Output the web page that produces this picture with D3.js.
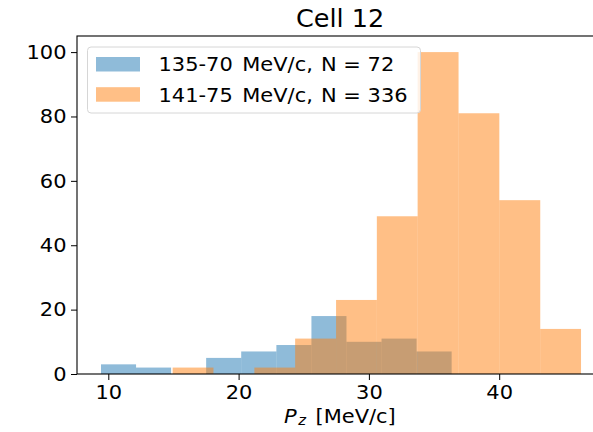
<!DOCTYPE html>
<html>
<head>
<meta charset="utf-8">
<script src="https://cdn.jsdelivr.net/npm/d3@7"></script>
<style>
  html, body { margin: 0; padding: 0; background: #fff; overflow: hidden; }
  svg { display: block; font-family: "DejaVu Sans", sans-serif; }
</style>
</head>
<body>
<svg id="chart" width="593" height="432"></svg>
<script>
// Histogram bin edges (MeV/c) and counts for the two momentum settings
const blueEdges = [9.44, 12.13, 14.82, 17.51, 20.20, 22.90, 25.59, 28.28, 30.97, 33.66, 36.35];
const blueCounts = [3, 2, 0, 5, 7, 9, 18, 10, 11, 7];
const orangeEdges = [14.94, 18.07, 21.21, 24.34, 27.48, 30.61, 33.74, 36.88, 40.01, 43.15, 46.28];
const orangeCounts = [2, 0, 2, 11, 23, 49, 100, 81, 54, 14];

// Legend pieces: setting, unit, entry count
const seriesSettings = ["135-70", "141-75"];
const seriesN = [72, 336];
const seriesColors = ["#1f77b4", "#ff7f0e"];
const xTicks = [10, 20, 30, 40];
const yTicks = [0, 20, 40, 60, 80, 100];
const title = "Cell 12";

const svg = d3.select("#chart");
const plotLeft = 77, plotRight = 605, plotTop = 36, plotBottom = 374;
const fontSize = 19.6, stretch = 1.07; // glyphs are drawn slightly widened

const x = d3.scaleLinear().domain([7.598, 48.12]).range([plotLeft, plotRight]);
const y = d3.scaleLinear().domain([0, 105]).range([plotBottom, plotTop]);

function bins(edges, counts) {
  return counts.map((c, i) => ({ x0: edges[i], x1: edges[i + 1], n: c }));
}

const series = [bins(blueEdges, blueCounts), bins(orangeEdges, orangeCounts)];

series.forEach((data, si) => {
  svg.append("g")
    .selectAll("rect")
    .data(data.filter(d => d.n > 0))
    .join("rect")
    .attr("x", d => x(d.x0))
    .attr("width", d => x(d.x1) - x(d.x0))
    .attr("y", d => y(d.n))
    .attr("height", d => y(0) - y(d.n))
    .attr("fill", seriesColors[si])
    .attr("fill-opacity", 0.5);
});

// Axes
const xAxis = d3.axisBottom(x).tickValues(xTicks).tickSize(6).tickPadding(5).tickFormat(d3.format("d"));
const yAxis = d3.axisLeft(y).tickValues(yTicks).tickSize(6).tickPadding(5).tickFormat(d3.format("d"));

const gx = svg.append("g").attr("transform", `translate(0,${plotBottom})`).call(xAxis);
const gy = svg.append("g").attr("transform", `translate(${plotLeft},0)`).call(yAxis);
[gx, gy].forEach(g => {
  g.select(".domain").remove();
  g.selectAll(".tick line").attr("stroke", "#000").attr("stroke-width", 1);
  g.selectAll(".tick text")
    .attr("fill", "#000")
    .attr("transform", `scale(${stretch},1)`)
    .style("font-family", "DejaVu Sans, sans-serif")
    .style("font-size", fontSize + "px");
});
gx.selectAll(".tick text").attr("dy", "0.73em");
gy.selectAll(".tick text").attr("x", -10.5 / stretch);

// Frame
svg.append("rect")
  .attr("x", plotLeft).attr("y", plotTop)
  .attr("width", plotRight - plotLeft).attr("height", plotBottom - plotTop)
  .attr("fill", "none").attr("stroke", "#000").attr("stroke-width", 1.1);

// Title
svg.append("text")
  .attr("x", (plotLeft + plotRight) / 2 - 1).attr("y", 27)
  .attr("text-anchor", "middle")
  .style("font-size", "25.5px")
  .attr("fill", "#000")
  .text(title);

// X label with subscript
const xl = svg.append("text")
  .attr("transform", `translate(284,422.5) scale(${stretch},1)`)
  .style("font-size", fontSize + "px")
  .attr("fill", "#000");
xl.append("tspan").style("font-style", "italic").text("P");
xl.append("tspan").style("font-style", "italic").style("font-size", "13.8px")
  .attr("dx", 1.5).attr("dy", 2).text("z");
xl.append("tspan").attr("x", (315.5 - 284) / stretch).attr("dy", -2).text("[MeV/c]");

// Legend
const lg = svg.append("g");
lg.append("rect")
  .attr("x", 87.5).attr("y", 47)
  .attr("width", 333).attr("height", 66)
  .attr("rx", 3.5)
  .attr("fill", "#fff").attr("fill-opacity", 0.8)
  .attr("stroke", "#d6d6d6").attr("stroke-width", 1);
seriesSettings.forEach((setting, i) => {
  const yy = 57 + i * 30.2;
  lg.append("rect")
    .attr("x", 96).attr("y", yy)
    .attr("width", 44).attr("height", 14.5)
    .attr("fill", seriesColors[i]).attr("fill-opacity", 0.5);
  const x0 = 158.5;
  const t = lg.append("text")
    .attr("transform", `translate(${x0},${yy + 14.3}) scale(${stretch},1)`)
    .style("font-size", fontSize + "px")
    .attr("fill", "#000");
  t.append("tspan").attr("x", 0).text(setting);
  t.append("tspan").attr("x", (242.3 - x0) / stretch).text("MeV/c,");
  t.append("tspan").attr("x", (321 - x0) / stretch).text(`N = ${seriesN[i]}`);
});
</script>
</body>
</html>
